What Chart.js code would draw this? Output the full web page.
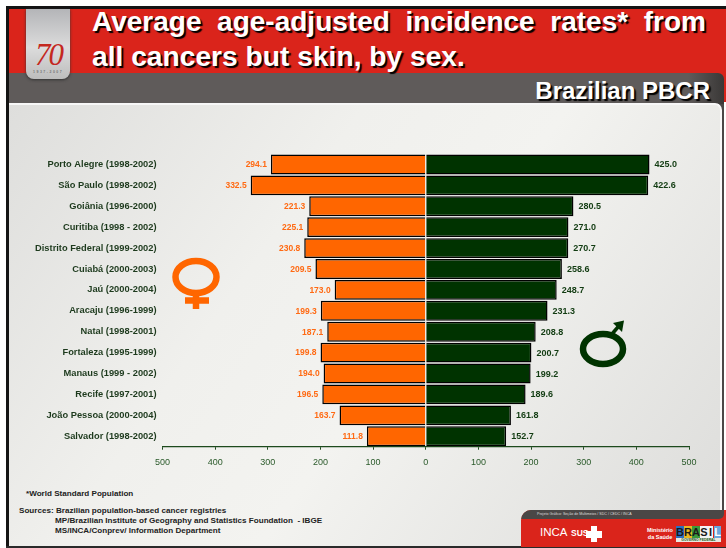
<!DOCTYPE html>
<html>
<head>
<meta charset="utf-8">
<script src="https://cdn.jsdelivr.net/npm/chart.js@4"></script>
<style>
html, body { margin: 0; padding: 0; background: #fff; }
#slide { position: relative; width: 726px; height: 548px; overflow: hidden; font-family: "Liberation Sans", Arial, sans-serif; }
#slide div, #slide svg, #slide canvas { position: absolute; }
#topline { left: 6px; top: 6px; width: 720px; height: 3px; background: #141414; }
#leftline { left: 6px; top: 6px; width: 3px; height: 542px; background: #141414; }
#bottomline { left: 6px; top: 546px; width: 720px; height: 2px; background: #2a2a2a; }
#red { left: 8px; top: 8.5px; width: 718px; height: 93px; background: #da241b; }
#grey { left: 8px; top: 73px; width: 716px; height: 31px; background: linear-gradient(90deg, #5f5b5a 95%, #3a3837); border-top-right-radius: 6px; }
#rightstrip { left: 719px; top: 100px; width: 5px; height: 420px; background: #4a4746; }
#panel { left: 8px; top: 103px; width: 714px; height: 444px; box-sizing: border-box; border-top: 2px solid #f7f7f7; border-right: 2px solid #f7f7f7; border-bottom: 1px solid #bbb; border-top-right-radius: 7px;
  background: linear-gradient(125deg, #dededc 0%, #f0f0ed 35%, #f3f3f0 55%, #dcdcda 100%); }
#tab { left: 26px; top: 9px; width: 44px; height: 70px; border-radius: 0 0 8px 8px; background: linear-gradient(180deg, #b4b5b8, #dcdcdc 55%, #bdbdbd); box-shadow: 0 1px 3px #333; }
#seventy { left: 35px; top: 37px; font: italic 31px "Liberation Serif", serif; color: #c4281f; letter-spacing: -2px; }
#years { left: 33px; top: 70px; font: bold 3.5px "Liberation Sans", sans-serif; color: #777; letter-spacing: 1.5px; }
.head { color: #fff; font-weight: bold; text-shadow: 2px 2px 1px #000; white-space: nowrap; }
#t1 { left: 92px; top: 5px; width: 614px; font-size: 28px; line-height: 34px; text-align: justify; text-align-last: justify; white-space: normal; }
#t2 { left: 92px; top: 39px; font-size: 28.2px; line-height: 34px; }
#sub { right: 16px; top: 77px; font-size: 24px; line-height: 28px; }
.note { color: #222; font-weight: bold; font-size: 8.1px; line-height: 10px; white-space: nowrap; }
#foot { left: 521px; top: 510px; width: 205px; height: 37px; background: #da241b; border-top-left-radius: 10px; overflow: hidden; }
#footbar { left: 0; top: 0; width: 203px; height: 9px; background: #4a4746; border-bottom-right-radius: 5px; }
#footbar span { position: absolute; left: 16px; top: 2px; font: 3.6px "Liberation Sans", sans-serif; color: #ddd; white-space: nowrap; }
.lg { color: #fff; white-space: nowrap; }
.flag { top: 16px; width: 8px; height: 12px; font-size: 11px; line-height: 12px; font-weight: bold; text-align: center; color: #1a1a1a; }
</style>
</head>
<body>
<div id="slide">
  <div id="red"></div>
  <div id="topline"></div>
  <div id="rightstrip"></div>
  <div id="grey"></div>
  <div id="panel"></div>
  <div id="leftline"></div>
  <div id="bottomline"></div>
  <div id="tab"></div>
  <div id="seventy">70</div>
  <div id="years">1937-2007</div>
  <div id="t1" class="head">Average age-adjusted incidence rates* from</div>
  <div id="t2" class="head">all cancers but skin, by sex.</div>
  <div id="sub" class="head">Brazilian PBCR</div>

  <div class="note" style="left:26px;top:488.5px">*World Standard Population</div>
  <div class="note" style="left:19px;top:505.5px">Sources: Brazilian population-based cancer registries</div>
  <div class="note" style="left:55px;top:515.5px">MP/Brazilian Institute of Geography and Statistics Foundation&nbsp; - IBGE</div>
  <div class="note" style="left:55px;top:525.5px">MS/INCA/Conprev/ Information Department</div>

  <div id="foot">
    <div id="footbar"><span>Projeto Gráfico: Seção de Multimeios / SDC / CEDC / INCA</span></div>
    <div class="lg" style="left:19px;top:16px;font-size:11.5px">INCA</div>
    <div class="lg" style="left:50px;top:18px;font-size:8.5px;font-weight:bold">SUS</div>
    <div style="left:70px;top:16px;width:6px;height:16px;background:#fff"></div>
    <div style="left:65px;top:21px;width:16px;height:7px;background:#fff"></div>
    <div class="lg" style="left:126px;top:17px;font-size:5.5px;font-weight:bold;line-height:7px;text-align:center">Ministério<br>da Saúde</div>
    <div class="flag" style="left:155px;background:#2a6fc0">B</div>
    <div class="flag" style="left:163px;background:#e8b820">R</div>
    <div class="flag" style="left:171px;background:#3a9a3a">A</div>
    <div class="flag" style="left:179px;background:#f4f4f4">S</div>
    <div class="flag" style="left:187px;width:5px;background:#f4f4f4">I</div>
    <div class="flag" style="left:193px;width:7px;background:#6aa6dc;color:#fff">L</div>
    <div style="left:155px;top:28px;width:45px;height:4px;background:#e8e8e0;color:#1a5a1a;font:bold 3.4px/4px 'Liberation Sans',sans-serif;text-align:center">GOVERNO FEDERAL</div>
  </div>

  <svg width="726" height="548" style="left:0;top:0">
    <g fill="none" stroke="#ff6600" stroke-width="6.5">
      <ellipse cx="196" cy="277" rx="20.5" ry="16"/>
      <path d="M196 293V309M185 300.5H209"/>
    </g>
    <g fill="none" stroke="#003300" stroke-width="6.5">
      <ellipse cx="603" cy="349" rx="20" ry="15"/>
    </g>
    <path d="M612 334L618 327" stroke="#003300" stroke-width="3.5"/>
    <path d="M613 323L624 320.5L622 332Z" fill="#003300"/>
  </svg>
  <canvas id="barCanvas" width="726" height="548" style="left:0;top:0"></canvas>
</div>

<script>
const registries = ["Porto Alegre (1998-2002)", "São Paulo (1998-2002)", "Goiânia (1996-2000)", "Curitiba (1998 - 2002)",
    "Distrito Federal (1999-2002)", "Cuiabá (2000-2003)", "Jaú (2000-2004)", "Aracaju (1996-1999)", "Natal (1998-2001)",
    "Fortaleza (1995-1999)", "Manaus (1999 - 2002)", "Recife (1997-2001)", "João Pessoa (2000-2004)", "Salvador (1998-2002)"];
const femaleRates = [294.1, 332.5, 221.3, 225.1, 230.8, 209.5, 173.0, 199.3, 187.1, 199.8, 194.0, 196.5, 163.7, 111.8];
const maleRates = [425.0, 422.6, 280.5, 271.0, 270.7, 258.6, 248.7, 231.3, 208.8, 200.7, 199.2, 189.6, 161.8, 152.7];

const axisGreen = "#1d4a1d";

// value labels next to the bar ends
const valueLabels = {
    id: "valueLabels",
    afterDatasetsDraw(chart) {
        const ctx = chart.ctx;
        ctx.save();
        ctx.textBaseline = "middle";
        ctx.font = "bold 8.5px 'Liberation Sans', sans-serif";
        chart.getDatasetMeta(0).data.forEach((bar, i) => {
            ctx.fillStyle = "#ff6a13";
            ctx.textAlign = "right";
            ctx.fillText(femaleRates[i].toFixed(1), bar.x - 4, bar.y + 0.5);
        });
        ctx.font = "bold 9px 'Liberation Sans', sans-serif";
        chart.getDatasetMeta(1).data.forEach((bar, i) => {
            ctx.fillStyle = "#123c12";
            ctx.textAlign = "left";
            ctx.fillText(maleRates[i].toFixed(1), bar.x + 5, bar.y + 0.5);
        });
        ctx.restore();
    }
};

new Chart(document.getElementById("barCanvas"), {
    type: "bar",
    data: {
        labels: registries,
        datasets: [{
            label: "Female",
            data: femaleRates.map(v => -v),
            backgroundColor: "#ff6600",
            borderColor: "#000",
            borderWidth: 1.5
        }, {
            label: "Male",
            data: maleRates,
            backgroundColor: "#003300",
            borderColor: "#000",
            borderWidth: 1.5
        }]
    },
    options: {
        indexAxis: "y",
        responsive: false,
        animation: false,
        categoryPercentage: 1,
        barPercentage: 0.95,
        layout: { padding: { left: 10, right: 37, top: 154, bottom: 73.5 } },
        plugins: { legend: { display: false }, tooltip: { enabled: false } },
        scales: {
            x: {
                stacked: true,
                min: -500,
                max: 500,
                grid: { display: true, drawOnChartArea: false, drawTicks: true, tickLength: 3, tickColor: axisGreen, tickWidth: 1 },
                border: { color: axisGreen, width: 1.2 },
                ticks: {
                    stepSize: 100,
                    maxRotation: 0,
                    padding: 7,
                    color: "#2a5a2a",
                    font: { family: "'Liberation Sans', sans-serif", size: 9 },
                    callback: v => Math.abs(v)
                }
            },
            y: {
                stacked: true,
                afterFit(axis) { axis.width = 152.5; },
                grid: { display: false, drawTicks: false },
                border: { display: false },
                ticks: {
                    autoSkip: false,
                    padding: 6,
                    color: "#1d3a1d",
                    font: { family: "'Liberation Sans', sans-serif", size: 9.3, weight: "bold" }
                }
            }
        }
    },
    plugins: [valueLabels]
});
</script>
</body>
</html>
